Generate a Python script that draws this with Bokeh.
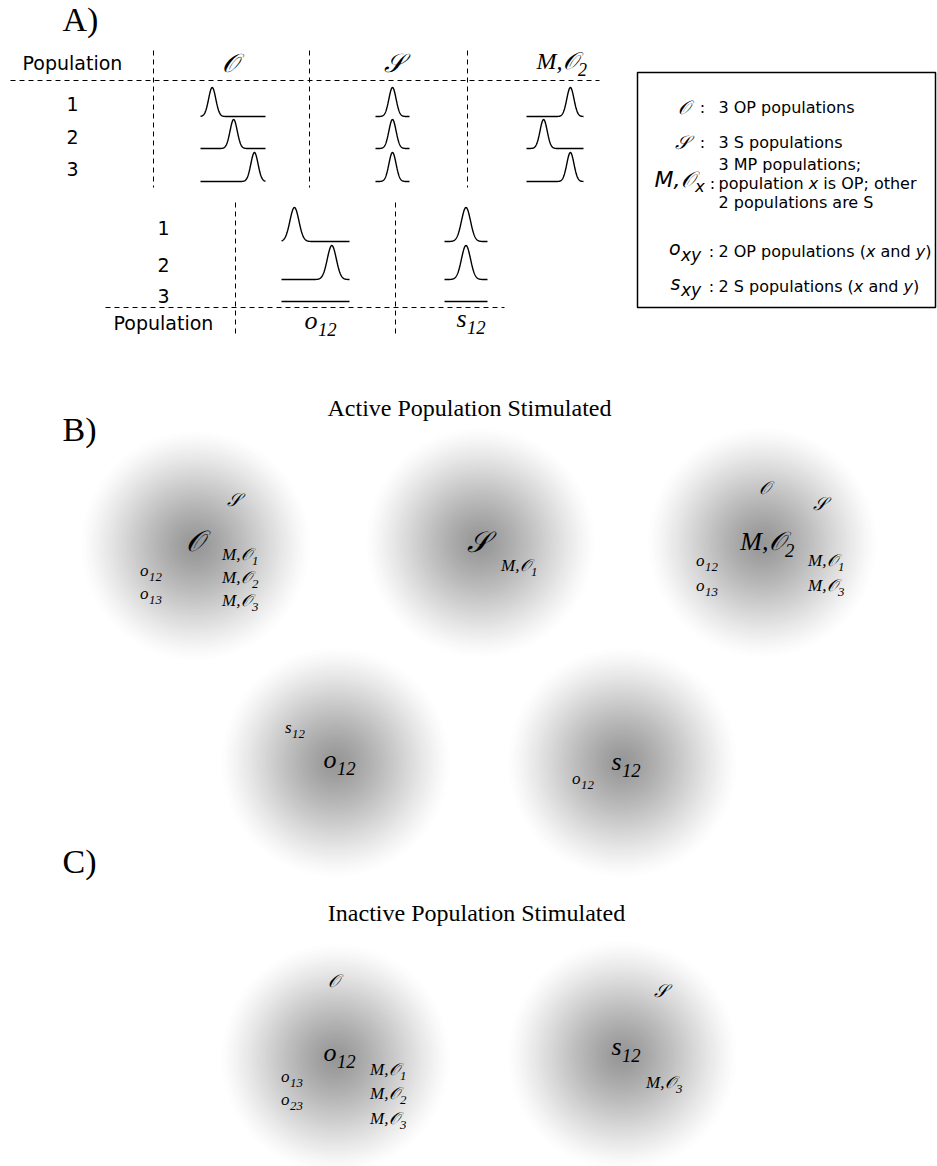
import numpy as np
from bokeh.plotting import figure
from bokeh.models import Range1d
from bokeh.core.properties import value
from bokeh.embed import file_html
from bokeh.resources import INLINE

SCR_O = "\U0001D4AA"   # script O
SCR_S = "\U0001D4AE"   # script S

# ---------------- data ----------------
pop_ids = ["1", "2", "3"]

# preferred-stimulus position of each population's tuning curve
# (fraction of the stimulus axis); None = population silent
peaks_O = [0.18, 0.51, 0.83]
peaks_S = [0.50, 0.50, 0.50]
peaks_MO2 = [0.77, 0.30, 0.77]
peaks_o12 = [0.19, 0.74, None]
peaks_s12 = [0.50, 0.50, None]

# legend: symbol, subscript, description lines (runs of (text, italic?))
legend_items = [
    (SCR_O, "", [[("3 OP populations", False)]]),
    (SCR_S, "", [[("3 S populations", False)]]),
    ("M," + SCR_O, "x", [[("3 MP populations;", False)],
                         [("population ", False), ("x", True), (" is OP; other", False)],
                         [("2 populations are S", False)]]),
    ("o", "xy", [[("2 OP populations (", False), ("x", True), (" and ", False),
                  ("y", True), (")", False)]]),
    ("s", "xy", [[("2 S populations (", False), ("x", True), (" and ", False),
                  ("y", True), (")", False)]]),
]

# ---------------- canvas ----------------
W, H = 937, 1166
p = figure(width=W, height=H, x_range=Range1d(0, W), y_range=Range1d(H, 0),
           output_backend="svg", toolbar_location=None, min_border=0)
p.axis.visible = False
p.grid.visible = False
p.outline_line_color = None
p.background_fill_color = "white"
p.border_fill_color = "white"

SANS = "DejaVu Sans"
SERIF = "Liberation Serif"
MATH = "DejaVu Serif"

# DejaVu Sans advance widths (em) for laying out mixed-style runs
ADV = {" ": .318, "(": .390, ")": .390, ";": .337, "2": .636, "3": .636,
       "O": .787, "P": .603, "S": .635, "M": .863, "a": .613, "d": .635,
       "e": .615, "h": .634, "i": .278, "l": .278, "n": .634, "o": .612,
       "p": .635, "r": .411, "s": .521, "t": .392, "u": .634, "x": .592,
       "y": .592, "f": .352, "c": .550}


def put(x, y, txt, size, font=SANS, style="normal", align="center", color="black"):
    p.text(x=[x], y=[y], text=[txt], text_font=value(font),
           text_font_size=f"{size}px", text_font_style=style,
           text_align=align, text_baseline="middle", text_color=color)


def put_sub(xj, y, base, sub, size, font=SERIF, style="italic", ratio=0.75, drop=0.38):
    put(xj, y, base, size, font, style, align="right")
    put(xj + 0.5, y + drop * size, sub, round(size * ratio, 1), font, style, align="left")


def put_runs(x, y, runs, size):
    for txt, ital in runs:
        lead = len(txt) - len(txt.lstrip(" "))
        core = txt.strip(" ")
        put(x + lead * ADV[" "] * size, y, core, size, SANS,
            "italic" if ital else "normal", align="left")
        x += sum(ADV.get(c, 0.6) for c in txt) * size


# ---------------- gradient discs ----------------
R_OUT = 116
ring_r = np.arange(R_OUT, 0, -1.5)
disc_centres = [(195, 545), (480, 542), (762, 542), (335, 762), (622, 762),
                (335, 1058), (622, 1055)]
xs, ys, rs, cs = [], [], [], []
for r in ring_r:
    dark = 105 * max(0.0, 1 - (r / R_OUT) ** 1.3) ** 1.25
    g = int(round(255 - dark))
    col = "#{0:02x}{0:02x}{0:02x}".format(g)
    for (cx, cy) in disc_centres:
        xs.append(cx); ys.append(cy); rs.append(r); cs.append(col)
p.circle(x=xs, y=ys, radius=rs, fill_color=cs, line_color=None)

# ---------------- panel labels & titles ----------------
put(80, 19, "A)", 34, SERIF)
put(79, 429, "B)", 34, SERIF)
put(79, 861, "C)", 34, SERIF)
put(469, 407, "Active Population Stimulated", 24, SERIF)
put(476, 912, "Inactive Population Stimulated", 24, SERIF)

# ---------------- panel A: tables ----------------
DASH = "5 4"


def bumps(x0, x1, base_y, peaks, amp, sigma):
    mx, my = [], []
    for by, pk in zip(base_y, peaks):
        xx = np.linspace(x0, x1, 160)
        if pk is None:
            yy = np.full_like(xx, by)
        else:
            c = x0 + pk * (x1 - x0)
            yy = by - amp * np.exp(-0.5 * ((xx - c) / sigma) ** 2)
        mx.append(xx); my.append(yy)
    p.multi_line(xs=mx, ys=my, line_color="black", line_width=1.4)


# upper table
p.multi_line(xs=[[10, 599], [153, 153], [309, 309], [467, 467]],
             ys=[[80, 80], [50, 187], [50, 187], [50, 187]],
             line_color="black", line_width=1, line_dash=DASH)
put(72, 62, "Population", 19)
for lab, yy in zip(pop_ids, [103, 136, 168]):
    put(72, yy, lab, 19)
put(229, 62, SCR_O, 26, MATH, "italic")
put(393, 62, SCR_S, 26, MATH, "italic")
put_sub(577, 60, "M," + SCR_O, "2", 24)
top_base = [116, 148, 181]
bumps(200, 265, top_base, peaks_O, 29, 3.6)
bumps(375, 409, top_base, peaks_S, 29, 3.6)
bumps(526, 583, top_base, peaks_MO2, 29, 3.6)

# lower table
p.multi_line(xs=[[105, 504], [235, 235], [395, 395]],
             ys=[[307, 307], [202, 333], [202, 333]],
             line_color="black", line_width=1, line_dash=DASH)
for lab, yy in zip(pop_ids, [227, 264, 295]):
    put(163, yy, lab, 19)
put(163, 322, "Population", 19)
put_sub(317, 320, "o", "12", 26, ratio=0.72, drop=0.34)
put_sub(466, 318, "s", "12", 26, ratio=0.72, drop=0.34)
low_base = [241, 279, 301]
bumps(281, 349, low_base, peaks_o12, 34, 4.5)
bumps(444, 487, low_base, peaks_s12, 34, 4.5)

# legend box
p.quad(left=[637], right=[935], top=[72], bottom=[307], fill_color=None,
       line_color="black", line_width=1.5)
leg_y = [107, 142, 183, 251, 286]
for (base, sub, lines), yy in zip(legend_items, leg_y):
    if not sub:
        put(689, yy - 1, base, 19, MATH, "italic", align="right")
        put(702, yy, ":", 16)
    elif base.startswith("M"):
        put_sub(694, yy - 4, base, sub, 22, SANS, "italic", ratio=0.75, drop=0.3)
        put(712, yy, ":", 16)
    else:
        put_sub(680, yy - 4, base, sub, 19, SANS, "italic", ratio=0.9, drop=0.4)
        put(711, yy, ":", 16)
    if len(lines) == 1:
        put_runs(718, yy, lines[0], 16)
    else:
        for k, ln in enumerate(lines):
            put_runs(718, 164 + 19 * k, ln, 16)

# ---------------- panel B: active population stimulated ----------------
SM = 17   # small label size
SY = 18   # small script symbol size
LG = 26   # centre label size
LS = 29   # centre script symbol size
# disc 1: O
put(233, 499, SCR_S, SY, MATH, "italic")
put(194, 540, SCR_O, LS, MATH, "italic")
for yy, s in zip([554, 577, 600], ["1", "2", "3"]):
    put_sub(251, yy, "M," + SCR_O, s, SM)
put_sub(148, 570, "o", "12", SM)
put_sub(148, 593, "o", "13", SM)
# disc 2: S
put(477, 541, SCR_S, LS, MATH, "italic")
put_sub(530, 565, "M," + SCR_O, "1", SM)
# disc 3: M,O2
put(764, 487, SCR_O, SY, MATH, "italic")
put(819, 503, SCR_S, SY, MATH, "italic")
put_sub(784, 541, "M," + SCR_O, "2", LG, ratio=0.72, drop=0.34)
put_sub(704, 560, "o", "12", SM)
put_sub(704, 585, "o", "13", SM)
put_sub(837, 560, "M," + SCR_O, "1", SM)
put_sub(837, 585, "M," + SCR_O, "3", SM)
# disc 4: o12
put_sub(291, 727, "s", "12", SM)
put_sub(336, 759, "o", "12", LG, ratio=0.72, drop=0.34)
# disc 5: s12
put_sub(621, 761, "s", "12", LG, ratio=0.72, drop=0.34)
put_sub(580, 778, "o", "12", SM)

# ---------------- panel C: inactive population stimulated ----------------
put(333, 980, SCR_O, SY, MATH, "italic")
put_sub(336, 1052, "o", "12", LG, ratio=0.72, drop=0.34)
for yy, s in zip([1069, 1093, 1118], ["1", "2", "3"]):
    put_sub(399, yy, "M," + SCR_O, s, SM)
put_sub(289, 1076, "o", "13", SM)
put_sub(289, 1099, "o", "23", SM)
put(660, 990, SCR_S, SY, MATH, "italic")
put_sub(621, 1046, "s", "12", LG, ratio=0.72, drop=0.34)
put_sub(675, 1082, "M," + SCR_O, "3", SM)

open("out.html", "w").write(file_html(p, INLINE))
